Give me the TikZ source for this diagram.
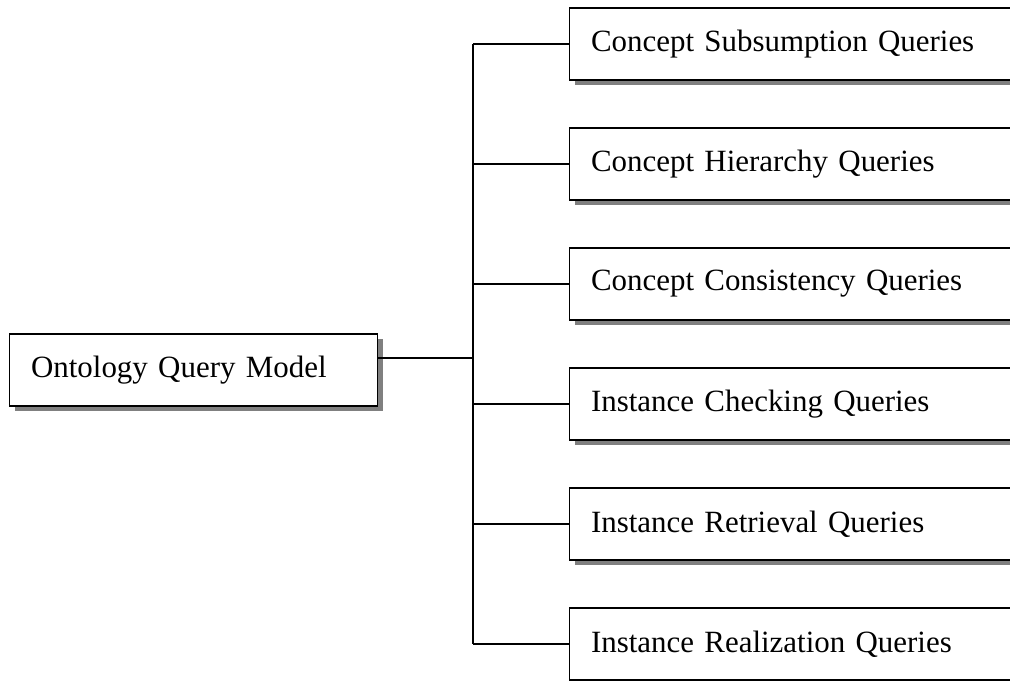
\documentclass[tikz,border=0pt]{standalone}
\usepackage{fontspec}
\setmainfont{Liberation Serif}
\usetikzlibrary{shadows}

\begin{document}
\begin{tikzpicture}[x=0.75pt,y=-0.75pt,
    qbox/.style={draw, line width=1.1pt, fill=white, anchor=west, align=left,
        minimum height=54pt, inner xsep=16pt, font=\fontsize{23.2}{27}\selectfont,
        drop shadow={shadow xshift=3.75pt, shadow yshift=-3.75pt, fill=black!50, opacity=1}},
    link/.style={line width=0.8pt}]
    \useasboundingbox (0,0) rectangle (1010,681);
    \clip (0,0) rectangle (1010,681);

    % Define coordinates
    \coordinate (hub) at (473,358);

    % Root
    \node[qbox, text width=244pt] (root) at (9,370) {Ontology Query Model};

    % Query kinds
    \foreach \name [count=\i] in {Concept Subsumption Queries, Concept Hierarchy Queries,
        Concept Consistency Queries, Instance Checking Queries,
        Instance Retrieval Queries, Instance Realization Queries} {
        \node[qbox, text width=314pt] (q\i) at (569,{44+120*(\i-1)}) {\name};
        \draw[link] (q\i.west) -- (q\i.west -| hub);
    }

    % Connectors
    \draw[link] (q1.west -| hub) -- (q6.west -| hub);
    \draw[link] (root.east |- hub) -- (hub);
\end{tikzpicture}
\end{document}
